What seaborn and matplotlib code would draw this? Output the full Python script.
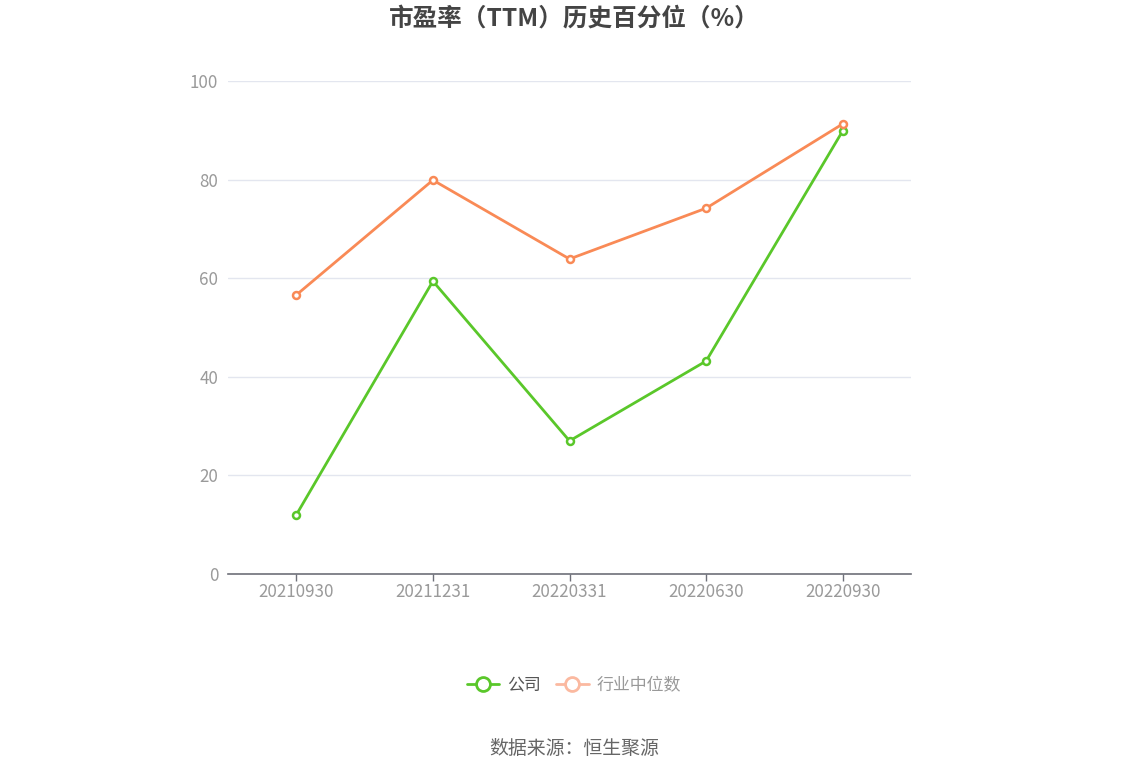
import matplotlib
matplotlib.use("Agg")
import matplotlib.pyplot as plt
import seaborn as sns
import pandas as pd
from matplotlib.lines import Line2D

categories = ["20210930", "20211231", "20220331", "20220630", "20220930"]
company = [12.0, 59.4, 27.0, 43.2, 89.9]
industry = [56.6, 79.9, 63.9, 74.2, 91.3]
series_names = ["公司", "行业中位数"]
y_ticks = [0, 20, 40, 60, 80, 100]

sns.set_theme(style="white")
plt.rcParams['font.family'] = ['Noto Sans CJK SC', 'DejaVu Sans']

green = "#5ac72a"
orange = "#f98a56"

df = pd.DataFrame({
    "x": list(range(len(categories))) * 2,
    "value": company + industry,
    "series": [series_names[0]] * len(categories) + [series_names[1]] * len(categories),
})

fig = plt.figure(figsize=(11.48, 7.76), dpi=100)
ax = fig.add_axes([0.1986, 0.2603, 0.595, 0.6353])

sns.lineplot(data=df, x="x", y="value", hue="series",
             palette={series_names[0]: green, series_names[1]: orange},
             marker="o", markersize=5, markerfacecolor="white", markeredgewidth=1.8,
             linewidth=2, ax=ax, legend=False, zorder=3)
for ln, c in zip(ax.get_lines(), [green, orange]):
    ln.set_markeredgecolor(c)

ax.set_xlim(-0.5, len(categories) - 0.5)
ax.set_ylim(0, 100)
ax.set_yticks(y_ticks)
ax.set_yticklabels([str(t) for t in y_ticks])
ax.set_xticks(range(len(categories)))
ax.set_xticklabels(categories)
ax.set_xlabel("")
ax.set_ylabel("")
ax.grid(axis="y", color="#e3e6ef", linewidth=1)
ax.grid(axis="x", visible=False)
for s in ["top", "right", "left"]:
    ax.spines[s].set_visible(False)
ax.spines["bottom"].set_color("#6e7079")
ax.spines["bottom"].set_linewidth(1.2)
ax.tick_params(axis="y", length=0, pad=7, labelsize=12.2, labelcolor="#9a9a9a")
ax.tick_params(axis="x", length=5, width=1, color="#6e7079", pad=1.5, labelsize=12.2, labelcolor="#9a9a9a", bottom=True)

fig.text(0.5, 0.975, "市盈率（TTM）历史百分位（%）", ha="center", va="center",
         fontsize=17.7, fontweight="bold", color="#444444")

handles = [
    Line2D([0], [0], color=green, lw=2, marker="o", markersize=10,
           markerfacecolor="white", markeredgecolor=green, markeredgewidth=2),
    Line2D([0], [0], color="#fbb9a0", lw=2, marker="o", markersize=10,
           markerfacecolor="white", markeredgecolor="#fbb9a0", markeredgewidth=2),
]
leg = fig.legend(handles, series_names, loc="center", bbox_to_anchor=(0.5, 0.117),
                 ncol=2, frameon=False, fontsize=12.2, handlelength=1.9,
                 columnspacing=0.9, handletextpad=0.47)
leg.get_texts()[0].set_color("#555555")
leg.get_texts()[1].set_color("#999999")

fig.text(0.5, 0.036, "数据来源：恒生聚源", ha="center", va="center",
         fontsize=13.6, color="#666666")

fig.savefig("out.png", dpi=100)
